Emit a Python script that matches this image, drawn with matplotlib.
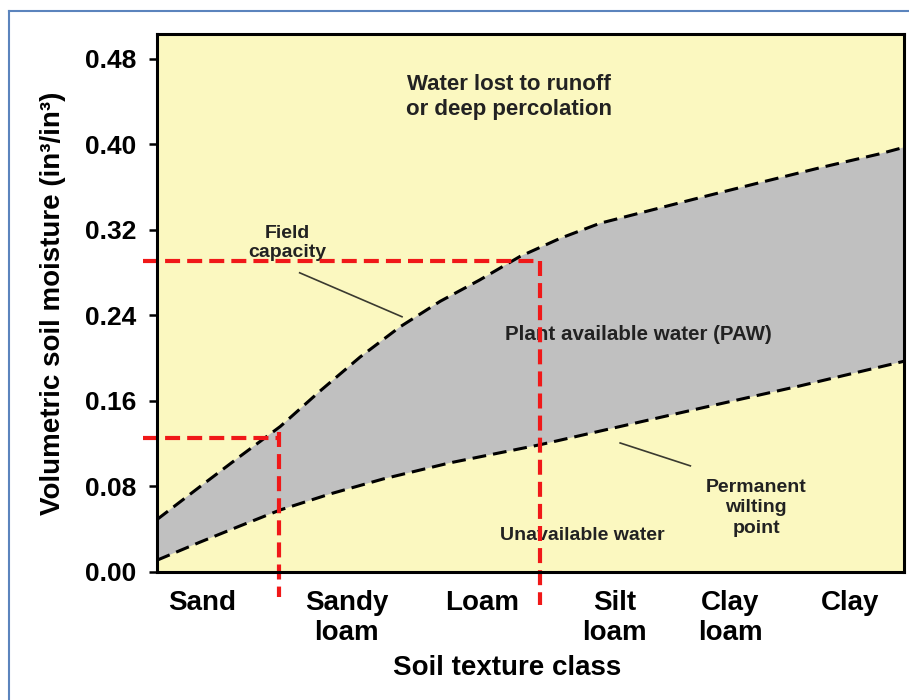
import numpy as np
import matplotlib
matplotlib.use('Agg')
import matplotlib.pyplot as plt
from matplotlib.lines import Line2D

plt.rcParams['font.family'] = ['Liberation Sans', 'DejaVu Sans']
plt.rcParams['font.weight'] = 'bold'

# soil texture classes (position as fraction of the axis width)
classes = ['Sand', 'Sandy\nloam', 'Loam', 'Silt\nloam', 'Clay\nloam', 'Clay']
class_pos = [0.060, 0.254, 0.435, 0.613, 0.767, 0.928]

# field capacity (upper dashed curve)
fc_x = [0.0, 0.058, 0.111, 0.165, 0.218, 0.272, 0.325, 0.379, 0.432, 0.486,
        0.540, 0.593, 0.660, 0.727, 0.807, 0.888, 0.968, 1.0]
fc_y = [0.049, 0.080, 0.108, 0.136, 0.169, 0.201, 0.229, 0.253, 0.273, 0.295,
        0.312, 0.326, 0.338, 0.350, 0.364, 0.378, 0.391, 0.397]

# permanent wilting point (lower dashed curve)
pwp_x = [0.0, 0.058, 0.111, 0.165, 0.232, 0.303, 0.392, 0.513, 0.620, 0.727, 0.861, 1.0]
pwp_y = [0.011, 0.028, 0.043, 0.058, 0.073, 0.087, 0.102, 0.119, 0.136, 0.153, 0.174, 0.197]

yticks = [0.00, 0.08, 0.16, 0.24, 0.32, 0.40, 0.48]

# red guide lines (x where they drop, y where they cross the axis)
guide_low = (0.163, 0.125)
guide_high = (0.513, 0.291)

fig = plt.figure(figsize=(9.09, 7.0), dpi=100)
ax = fig.add_axes([0.1727, 0.1829, 0.8218, 0.7686])
ax.set_facecolor('#fbf8c0')

# plant available water band
ax.fill(np.concatenate([fc_x, pwp_x[::-1]]), np.concatenate([fc_y, pwp_y[::-1]]),
        color='#c0c0c0', lw=0, zorder=1)
ax.plot(fc_x, fc_y, color='black', lw=2.2, dashes=(4.5, 2.3), zorder=3)
ax.plot(pwp_x, pwp_y, color='black', lw=2.2, dashes=(4.5, 2.3), zorder=3)

# red guides
red = '#f01818'
for gx, gy in [guide_low, guide_high]:
    ax.plot([-0.019, gx], [gy, gy], color=red, lw=3, dashes=(3.6, 1.7), clip_on=False, zorder=4)
ax.plot([guide_low[0], guide_low[0]], [0.131, -0.023], color=red, lw=3, dashes=(3.6, 1.7), clip_on=False, zorder=4)
ax.plot([guide_high[0], guide_high[0]], [0.291, -0.031], color=red, lw=3, dashes=(3.6, 1.7), clip_on=False, zorder=4)

ax.set_xlim(0, 1)
ax.set_ylim(0, 0.503)
ax.set_yticks(yticks, [f'{v:.2f}' for v in yticks])
ax.set_xticks(class_pos, classes)
for s in ax.spines.values():
    s.set_linewidth(2.2)
    s.set_zorder(5)
ax.tick_params(axis='y', direction='out', length=6, width=1.8, labelsize=19, pad=9)
ax.tick_params(axis='x', length=0, labelsize=20, pad=13)

ax.set_xlabel('Soil texture class', fontsize=20, fontweight='bold')
ax.xaxis.set_label_coords(0.469, -0.154)
ax.set_ylabel('Volumetric soil moisture (in³/in³)', fontsize=20, fontweight='bold')
ax.yaxis.set_label_coords(-0.122, 0.5)

txt = '#222222'
ax.text(0.471, 0.444, 'Water lost to runoff\nor deep percolation', ha='center', va='center',
        fontsize=16, color=txt, linespacing=1.2)
ax.text(0.174, 0.308, 'Field\ncapacity', ha='center', va='center', fontsize=14, color=txt, linespacing=1.15)
ax.text(0.644, 0.222, 'Plant available water (PAW)', ha='center', va='center', fontsize=14.8, color=txt)
ax.text(0.569, 0.034, 'Unavailable water', ha='center', va='center', fontsize=14, color=txt)
ax.text(0.802, 0.060, 'Permanent\nwilting\npoint', ha='center', va='center', fontsize=14, color=txt, linespacing=1.25)

# pointer lines
ax.plot([0.191, 0.328], [0.2797, 0.2386], color='#3a3a30', lw=1.2, zorder=3)
ax.plot([0.620, 0.714], [0.1206, 0.0992], color='#3a3a30', lw=1.2, zorder=3)

# outer blue frame (cut off at right and bottom)
fx, fy = 9 / 909, 1 - 11 / 700
fig.add_artist(Line2D([fx, fx], [0, fy], transform=fig.transFigure, color='#5b84bd', lw=1.5))
fig.add_artist(Line2D([fx, 1], [fy, fy], transform=fig.transFigure, color='#5b84bd', lw=1.5))

fig.savefig('out.png', dpi=100)
